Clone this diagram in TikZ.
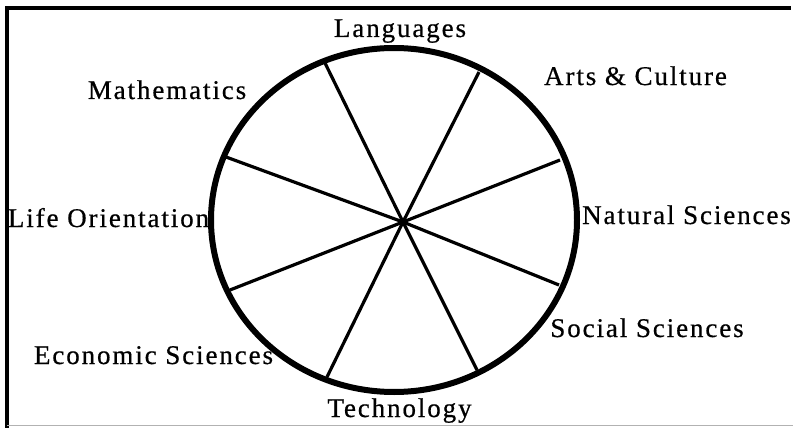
\documentclass[tikz,border=0pt]{standalone}
\usepackage{fontspec}
\setmainfont{Liberation Serif}[LetterSpace=7,FakeBold=0.6]
\begin{document}
\begin{tikzpicture}[x=1pt,y=-1pt,
  lbl/.style={anchor=base,inner sep=0pt,font=\fontsize{27}{31}\selectfont},
  rim/.style={line width=6pt},
  spoke/.style={line width=3.2pt}]
\useasboundingbox (0,0) rectangle (793,428);
% frame
\draw[line width=3.5pt] (7,428) -- (7,8) -- (791,8);
\draw[line width=0.8pt,gray!60] (7,425.5) -- (793,425.5);
% wheel
\coordinate (c) at (403,222);
\coordinate (p1) at (325,63);
\coordinate (p2) at (479,72);
\coordinate (p3) at (560,160);
\coordinate (p4) at (559,285);
\coordinate (p5) at (477,370);
\coordinate (p6) at (327,377);
\coordinate (p7) at (230,290);
\coordinate (p8) at (226,157);
\foreach \i/\j in {p1/p5,p2/p6,p3/p7,p8/p4}
  \draw[spoke] (\i) -- (c) -- (\j);
\draw[rim] (394,220) ellipse [x radius=183pt, y radius=172pt];
% labels
\node[lbl] (lang) at (400,37) {Languages};
\node[lbl] (math) at (167,99) {Mathematics};
\node[lbl] (arts) at (635.5,85) {Arts \& Culture};
\node[lbl] (nat) at (686.5,224) {Natural Sciences};
\node[lbl] (life) at (108.5,227) {Life Orientation};
\node[lbl] (eco) at (153.5,364) {Economic Sciences};
\node[lbl] (soc) at (647,337) {Social Sciences};
\node[lbl] (tech) at (399.5,417) {Technology};
\end{tikzpicture}
\end{document}
